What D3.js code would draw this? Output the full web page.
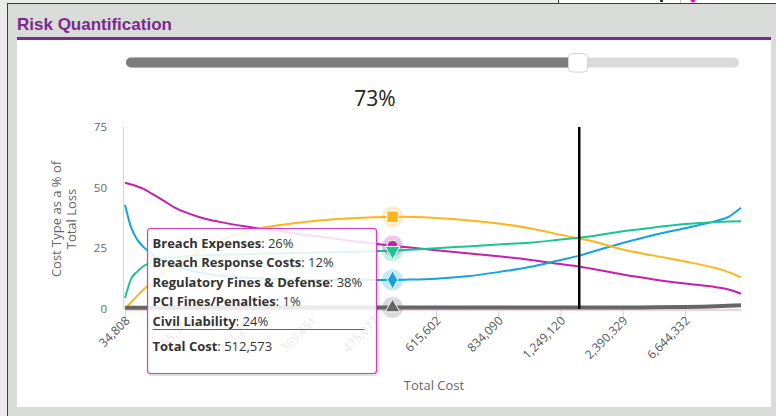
<!DOCTYPE html>
<html>
<head>
<meta charset="utf-8">
<script src="https://cdn.jsdelivr.net/npm/d3@7"></script>
<style>
body { margin: 0; background: #ebebeb; }
svg { display: block; }
</style>
</head>
<body>
<svg width="776" height="416"></svg>
<script>
// percentile index of each sampled point (0..99)
const pointIndex = [0,1,2,3,4,5,6,8,10,12,15,20,25,30,35,40,43,45,50,55,60,65,70,73,75,80,85,90,95,97,99];

const breachExpenses = [52,51.3,50.5,49.5,48,46.5,45,41.8,39.6,37.8,36,33.8,32,30.2,28.5,27,26,25.5,24.2,23,21.7,20.3,18.5,17.5,16.6,14.2,12.2,10.5,9,8,6.3];
const breachResponse = [43,33.5,28.5,25.5,23.3,21.5,20,17.8,16.2,15,13.8,12.8,12.3,12,11.9,11.9,12,12.1,12.5,13.5,15.2,17.3,20.2,22,23.5,27.2,30.5,33.3,36.3,38,41.7];
const regulatoryFines = [0,2.8,5.5,8,10.3,12.5,14.5,18,21.2,24,27.8,32.3,34.6,36.2,37.2,37.8,38,38,37.5,36.6,35.2,33.3,30.6,29,28,24.5,22,19.6,16.8,15.2,13];
const pciFines = [0.5,0.5,0.5,0.5,0.5,0.5,0.5,0.5,0.5,0.5,0.5,0.5,0.6,0.6,0.6,0.6,0.6,0.6,0.6,0.6,0.6,0.6,0.6,0.6,0.6,0.6,0.7,0.8,1.1,1.3,1.5];
const civilLiability = [4.5,12.5,15.5,17.7,19,20,20.6,21.3,21.7,22,22.3,22.7,23,23.2,23.5,23.8,24,24.3,25,25.8,26.6,27.3,28.6,29.4,30,32,33.6,35,35.9,36.1,36.2];

const seriesNames = ['Breach Expenses','Breach Response Costs','Regulatory Fines & Defense','PCI Fines/Penalties','Civil Liability'];
const seriesColors = ['#c41fae','#14a3dc','#ffb31c','#666666','#17c690'];
const seriesValues = [breachExpenses, breachResponse, regulatoryFines, pciFines, civilLiability];

const tickIndex = [0,10,20,30,40,50,60,70,80,90];
const tickLabels = ['34,808','155,744','261,293','369,451','475,077','615,602','834,090','1,249,120','2,390,329','6,644,332'];
const yTicks = [0,25,50,75];

const sliderPercent = 73;
const hoverIndex = 43;
const tooltipValues = ['26%','12%','38%','1%','24%'];
const totalCost = '512,573';

const svg = d3.select('svg');
const width = +svg.attr('width');
const height = +svg.attr('height');

// page frame
svg.append('rect').attr('width', width).attr('height', height).attr('fill', '#ebebeb');
svg.append('rect').attr('x', 8).attr('y', 4).attr('width', width - 8).attr('height', height - 4).attr('fill', '#d9dbd9');
svg.append('rect').attr('x', 559).attr('y', 0).attr('width', width - 559).attr('height', 3.5).attr('fill', '#fff');
svg.append('line').attr('x1', 7).attr('x2', width).attr('y1', 3.5).attr('y2', 3.5).attr('stroke', '#3c3c3c');
svg.append('line').attr('x1', 7.5).attr('x2', 7.5).attr('y1', 3.5).attr('y2', height).attr('stroke', '#3c3c3c');
svg.append('line').attr('x1', 558.5).attr('x2', 558.5).attr('y1', 0).attr('y2', 4).attr('stroke', '#3c3c3c');
svg.append('line').attr('x1', 680.5).attr('x2', 680.5).attr('y1', 0).attr('y2', 3).attr('stroke', '#bbb');
svg.append('circle').attr('cx', 693).attr('cy', 0).attr('r', 2.5).attr('fill', '#d61fb0');
svg.append('rect').attr('x', 660).attr('y', 0).attr('width', 3).attr('height', 2).attr('fill', '#333');

svg.append('rect').attr('x', 17).attr('y', 39).attr('width', 754).attr('height', 368).attr('fill', '#fff');
svg.append('line').attr('x1', 17).attr('x2', 771).attr('y1', 38.5).attr('y2', 38.5)
    .attr('stroke', '#7b298c').attr('stroke-width', 3);
svg.append('text').attr('x', 17).attr('y', 29.5).text('Risk Quantification')
    .attr('font-family', 'Liberation Sans, Arial, sans-serif').attr('font-weight', 'bold')
    .attr('font-size', 17).attr('fill', '#7b298c');

// slider
const sliderX = 578;
svg.append('rect').attr('x', 126).attr('y', 57.5).attr('width', 739 - 126).attr('height', 10)
    .attr('rx', 5).attr('fill', '#dadada');
svg.append('rect').attr('x', 126).attr('y', 57.5).attr('width', sliderX - 126).attr('height', 10)
    .attr('rx', 5).attr('fill', '#7c7c7c');
svg.append('rect').attr('x', sliderX - 9.5).attr('y', 53.5).attr('width', 19).attr('height', 18.5)
    .attr('rx', 4).attr('fill', '#fff').attr('stroke', '#d4d4d4');
svg.append('text').attr('x', 375).attr('y', 106).attr('text-anchor', 'middle')
    .attr('font-family', 'Open Sans, sans-serif').attr('font-size', 21).attr('fill', '#222')
    .text(sliderPercent + '%');

// chart
const xScale = d3.scaleLinear().domain([0, 99]).range([125, 741]);
const yScale = d3.scaleLinear().domain([0, 75]).range([309, 127]);

const g = svg.append('g').attr('font-family', 'Open Sans, sans-serif');

yTicks.forEach(t => {
    g.append('text').attr('x', 107).attr('y', yScale(t)).attr('dy', '0.35em')
        .attr('text-anchor', 'end').attr('font-size', 11.5).attr('fill', '#666').text(t);
});
g.append('line').attr('x1', 123.5).attr('x2', 123.5).attr('y1', 127).attr('y2', 309)
    .attr('stroke', '#c5d5ea');

const yTitle = g.append('text').attr('transform', 'translate(64,219) rotate(-90)')
    .attr('text-anchor', 'middle').attr('font-size', 13).attr('fill', '#666');
yTitle.append('tspan').attr('x', 0).attr('dy', '-0.25em').text('Cost Type as a % of');
yTitle.append('tspan').attr('x', 0).attr('dy', '1.2em').text('Total Loss');

// x axis
const xAxis = d3.axisBottom(xScale).tickValues(tickIndex)
    .tickFormat((d, i) => tickLabels[i]).tickSize(9).tickSizeOuter(0);
const xg = g.append('g').attr('transform', 'translate(0,309.5)').call(xAxis);
xg.select('.domain').attr('stroke', '#e6c6d2').attr('stroke-width', 1.5);
xg.selectAll('.tick line').attr('stroke', '#c5d5ea');
xg.selectAll('.tick text').attr('font-family', 'Open Sans, sans-serif').attr('font-size', 12)
    .attr('fill', '#555').attr('text-anchor', 'end')
    .attr('y', 0).attr('dy', 0)
    .attr('transform', 'translate(5,12) rotate(-45)');

g.append('text').attr('x', 434).attr('y', 390).attr('text-anchor', 'middle')
    .attr('font-size', 13).attr('fill', '#666').text('Total Cost');

// lines
const line = d3.line()
    .x((d, i) => xScale(pointIndex[i]))
    .y(d => yScale(d))
    .curve(d3.curveMonotoneX);

seriesValues.forEach((vals, s) => {
    g.append('path').datum(vals).attr('d', line).attr('fill', 'none')
        .attr('stroke', seriesColors[s]).attr('stroke-width', s === 3 ? 4 : 2)
        .attr('stroke-linejoin', 'round');
});

// slider marker line
g.append('line').attr('x1', xScale(sliderPercent)).attr('x2', xScale(sliderPercent))
    .attr('y1', 127).attr('y2', 309).attr('stroke', '#000').attr('stroke-width', 2.5);

// hover markers
const symbols = [d3.symbolCircle, d3.symbolDiamond, d3.symbolSquare, d3.symbolTriangle, d3.symbolTriangle];
const hi = pointIndex.indexOf(hoverIndex);
seriesValues.forEach((vals, s) => {
    const cx = xScale(hoverIndex), cy = yScale(vals[hi]);
    g.append('circle').attr('cx', cx).attr('cy', cy).attr('r', 10.5)
        .attr('fill', seriesColors[s]).attr('opacity', 0.25);
});
seriesValues.forEach((vals, s) => {
    const cx = xScale(hoverIndex), cy = yScale(vals[hi]);
    g.append('path').attr('d', d3.symbol(symbols[s], s === 2 ? 130 : 95)())
        .attr('transform', `translate(${cx},${cy})` + (s === 4 ? ' rotate(180)' : ''))
        .attr('fill', seriesColors[s]).attr('stroke', '#fff').attr('stroke-width', 1);
});

// tooltip
const tip = svg.append('g').attr('transform', 'translate(147.5,228.5)')
    .attr('font-family', 'Open Sans, sans-serif');
tip.append('rect').attr('x', 1).attr('y', 1).attr('width', 229).attr('height', 145).attr('rx', 3)
    .attr('fill', 'none').attr('stroke', '#000').attr('stroke-opacity', 0.12).attr('stroke-width', 3);
tip.append('rect').attr('width', 229).attr('height', 145).attr('rx', 3)
    .attr('fill', '#fff').attr('fill-opacity', 0.86).attr('stroke', '#d63cbc').attr('stroke-width', 1.2);
seriesNames.forEach((name, s) => {
    const t = tip.append('text').attr('x', 5).attr('y', 19 + s * 19.5)
        .attr('font-size', 13).attr('fill', '#333');
    t.append('tspan').attr('font-weight', 'bold').text(name);
    t.append('tspan').text(': ' + tooltipValues[s]);
});
tip.append('line').attr('x1', 5).attr('x2', 217).attr('y1', 101).attr('y2', 101)
    .attr('stroke', '#666').attr('stroke-width', 1);
const tc = tip.append('text').attr('x', 5).attr('y', 122).attr('font-size', 13).attr('fill', '#333');
tc.append('tspan').attr('font-weight', 'bold').text('Total Cost');
tc.append('tspan').text(': ' + totalCost);
</script>
</body>
</html>
